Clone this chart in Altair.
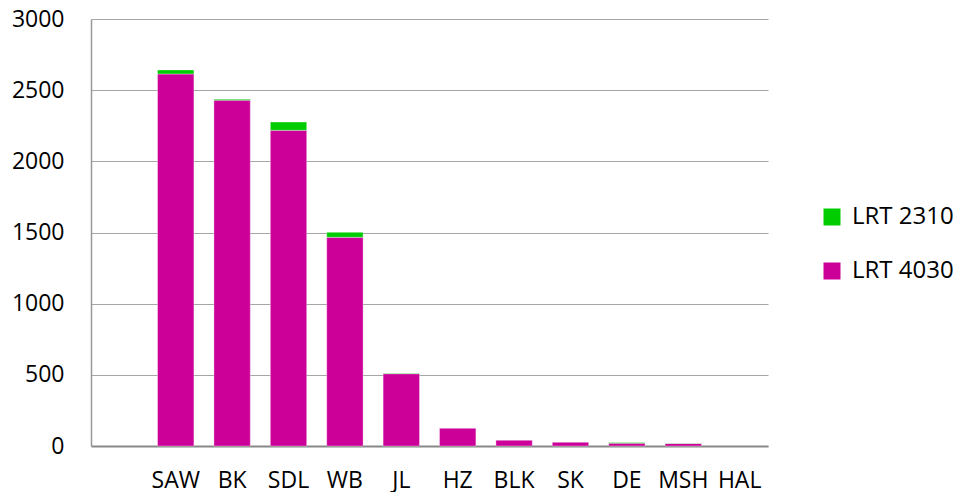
import altair as alt
import pandas as pd

categories = [" ", "SAW", "BK", "SDL", "WB", "JL", "HZ", "BLK", "SK", "DE", "MSH", "HAL"]
sites = ["SAW", "BK", "SDL", "WB", "JL", "HZ", "BLK", "SK", "DE", "MSH", "HAL"]
lrt4030 = [2614, 2430, 2218, 1466, 508, 124, 40, 26, 20, 18, 0]
lrt2310 = [28, 7, 58, 35, 3, 0, 0, 0, 5, 1, 0]
series = ["LRT 2310", "LRT 4030"]
colors = ["#00CC00", "#CC0099"]

rows = []
for s, a, b in zip(sites, lrt4030, lrt2310):
    if a > 0:
        rows.append({"site": s, "series": "LRT 4030", "value": a, "rank": 0})
    if b > 0:
        rows.append({"site": s, "series": "LRT 2310", "value": b, "rank": 1})
df = pd.DataFrame(rows)

FONT = "Open Sans"

chart = alt.Chart(df).mark_bar(
    stroke="white", strokeOpacity=0.35, strokeWidth=1
).encode(
    x=alt.X("site:N", sort=categories,
            scale=alt.Scale(domain=categories, paddingInner=0.355, paddingOuter=0.18),
            axis=alt.Axis(title=None, labelAngle=0, ticks=False, tickSize=0,
                          labelPadding=23, labelFontSize=23, labelFont=FONT,
                          labelColor="#000000", domainColor="#888888",
                          domainWidth=2, grid=False)),
    y=alt.Y("value:Q", stack="zero",
            scale=alt.Scale(domain=[0, 3000], nice=False),
            axis=alt.Axis(title=None, values=[0, 500, 1000, 1500, 2000, 2500, 3000],
                          format="d",
                          ticks=False, tickSize=0, labelPadding=27, labelFontSize=23,
                          labelFont=FONT, labelColor="#000000",
                          domainColor="#999999", domainWidth=1.5,
                          gridColor="#A6A6A6", gridWidth=1.2)),
    color=alt.Color("series:N",
                    scale=alt.Scale(domain=series, range=colors),
                    legend=alt.Legend(title=None, orient="none", legendX=729, legendY=186,
                                      symbolType="square", symbolSize=289,
                                      symbolStrokeWidth=0, labelFontSize=24,
                                      labelFont=FONT, labelColor="#000000",
                                      labelLimit=300,
                                      rowPadding=30, labelOffset=8, padding=0)),
    order=alt.Order("rank:Q", sort="ascending"),
).properties(
    width=677, height=427,
    autosize=alt.AutoSizeParams(type="none"),
    padding={"left": 83, "top": 11, "right": 189, "bottom": 46},
).configure_view(stroke=None)

chart.save("out.html", embed_options={"renderer": "svg", "actions": False})
